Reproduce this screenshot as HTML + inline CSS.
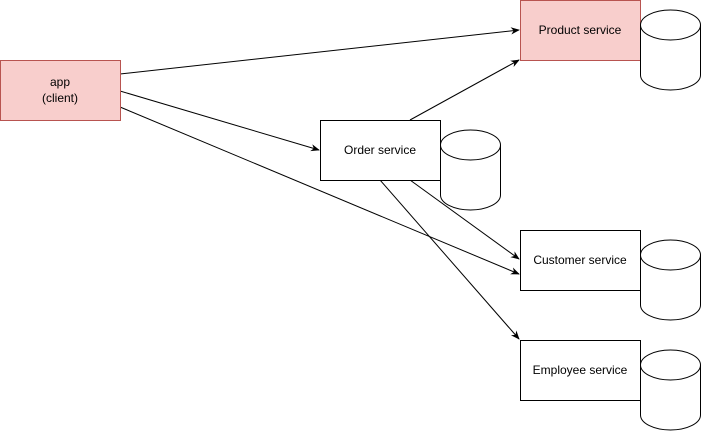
<!DOCTYPE html><html><head><style>body{margin:0;background:#fff}</style></head><body>
<svg width="701" height="432" xmlns="http://www.w3.org/2000/svg" font-family="Helvetica, 'Liberation Sans', Arial, sans-serif" font-size="12">
<defs><marker id="a" viewBox="0 0 10 10" refX="9" refY="5" markerWidth="9" markerHeight="9" orient="auto" markerUnits="userSpaceOnUse"><path d="M0,1 L10,5 L0,9 L3,5z" fill="#000"/></marker></defs>
<g stroke="#000" fill="none">
<line x1="120" y1="74" x2="519" y2="30" marker-end="url(#a)"/>
<line x1="120" y1="91" x2="319" y2="150" marker-end="url(#a)"/>
<line x1="120" y1="107" x2="519" y2="274" marker-end="url(#a)"/>
<line x1="410" y1="120" x2="519" y2="60" marker-end="url(#a)"/>
<line x1="410" y1="180" x2="519" y2="259" marker-end="url(#a)"/>
<line x1="380" y1="180" x2="519" y2="339" marker-end="url(#a)"/>
</g>
<g stroke="#b85450" fill="#f8cecc"><rect x="0.5" y="60.5" width="120" height="60"/><rect x="520.5" y="0.5" width="120" height="60"/></g>
<g stroke="#000" fill="#fff"><rect x="320.5" y="120.5" width="120" height="60"/><rect x="520.5" y="230.5" width="120" height="60"/><rect x="520.5" y="340.5" width="120" height="60"/></g>
<g stroke="#000" fill="#fff">
<path d="M640.5,25 a30,15 0 0 1 60,0 v50 a30,15 0 0 1 -60,0z"/><path d="M640.5,25 a30,15 0 0 0 60,0"/>
<path d="M440.5,145 a30,15 0 0 1 60,0 v50 a30,15 0 0 1 -60,0z"/><path d="M440.5,145 a30,15 0 0 0 60,0"/>
<path d="M640.5,255 a30,15 0 0 1 60,0 v50 a30,15 0 0 1 -60,0z"/><path d="M640.5,255 a30,15 0 0 0 60,0"/>
<path d="M640.5,365 a30,15 0 0 1 60,0 v50 a30,15 0 0 1 -60,0z"/><path d="M640.5,365 a30,15 0 0 0 60,0"/>
</g>
<g text-anchor="middle" fill="#000">
<text x="60" y="86">app</text><text x="60" y="102">(client)</text>
<text x="580" y="34">Product service</text>
<text x="380" y="154">Order service</text>
<text x="580" y="264">Customer service</text>
<text x="580" y="374">Employee service</text>
</g></svg></body></html>
